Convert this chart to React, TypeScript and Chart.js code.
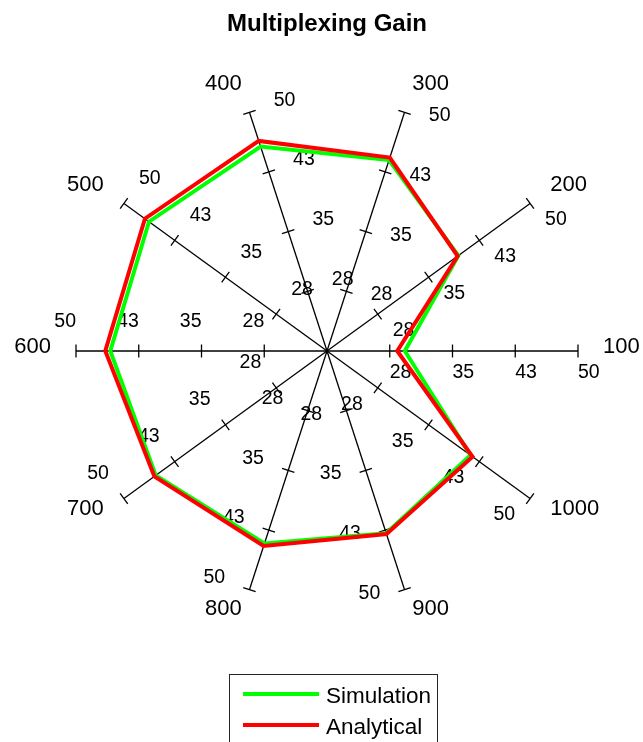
import React, { useEffect, useRef } from 'react';
import Chart from 'chart.js/auto';

// Number of users per axis, listed counter-clockwise from the right-hand axis
const categories = ['100', '200', '300', '400', '500', '600', '700', '800', '900', '1000'];
const simulation = [29.3, 39.4, 44.0, 45.7, 46.3, 45.9, 45.3, 44.2, 42.9, 41.2];
const analytical = [28.4, 39.3, 44.3, 46.4, 46.9, 46.5, 45.5, 44.5, 43.0, 41.5];

const axisMin = 20;
const axisMax = 50;
const tickValues = [27.5, 35, 42.5, 50];
const tickLabels = ['28', '35', '43', '50'];

const seriesNames = ['Simulation', 'Analytical'];
const seriesColors = ['#00ff00', '#ff0000'];
const titleText = 'Multiplexing Gain';

const FONT = "'Liberation Sans', Arial, Helvetica, sans-serif";

// The radar scale walks clockwise; the axes here go counter-clockwise from 0°.
function counterClockwise(arr: any[]) {
  const n = arr.length;
  return arr.map((_, i) => arr[(n - i) % n]);
}

// Spoke ticks, per-spoke tick labels, spoke names and the boxed legend.
const spiderDecor = {
  id: 'spiderDecor',
  beforeDatasetsDraw(chart: any) {
    const scale = chart.scales.r;
    const ctx = chart.ctx;
    const cx = scale.xCenter;
    const cy = scale.yCenter;
    ctx.save();
    ctx.strokeStyle = '#000';
    ctx.fillStyle = '#000';
    ctx.lineWidth = 1.3;
    chart.data.labels.forEach((label: string, i: number) => {
      const end = scale.getPointPositionForValue(i, axisMax);
      const len = Math.hypot(end.x - cx, end.y - cy);
      const ux = (end.x - cx) / len;
      const uy = (end.y - cy) / len;
      const px = -uy;
      const py = ux;
      let deg = Math.round((Math.atan2(-uy, ux) * 180) / Math.PI);
      deg = (deg + 360) % 360;

      ctx.font = `19.5px ${FONT}`;
      ctx.textBaseline = 'middle';
      ctx.textAlign = deg < 180 ? 'left' : 'right';
      tickValues.forEach((v, k) => {
        const p = scale.getPointPositionForValue(i, v);
        ctx.beginPath();
        ctx.moveTo(p.x - px * 6.5, p.y - py * 6.5);
        ctx.lineTo(p.x + px * 6.5, p.y + py * 6.5);
        ctx.stroke();
        ctx.fillText(tickLabels[k], p.x + px * 25.5, p.y + py * 25.5 - 4.25);
      });

      const lp = scale.getPointPositionForValue(i, axisMin + (axisMax - axisMin) * 1.1);
      ctx.font = `22px ${FONT}`;
      ctx.textAlign = ux > 0.01 ? 'left' : ux < -0.01 ? 'right' : 'center';
      ctx.fillText(String(label), lp.x, lp.y - 4.25);
    });
    ctx.restore();
  },
  afterDraw(chart: any) {
    const ctx = chart.ctx;
    ctx.save();
    ctx.strokeStyle = '#262626';
    ctx.lineWidth = 1;
    ctx.strokeRect(229.5, 674.5, 208, 100);
    ctx.font = `22.5px ${FONT}`;
    ctx.textBaseline = 'alphabetic';
    ctx.textAlign = 'left';
    ctx.fillStyle = '#000';
    seriesNames.forEach((name, k) => {
      const y = 694 + 31 * k;
      ctx.strokeStyle = seriesColors[k];
      ctx.lineWidth = 4;
      ctx.beginPath();
      ctx.moveTo(243, y);
      ctx.lineTo(319, y);
      ctx.stroke();
      ctx.fillText(name, 326, y + 9);
    });
    ctx.restore();
  },
};

export default function App() {
  const canvasRef = useRef<HTMLCanvasElement>(null);

  useEffect(() => {
    const canvas = canvasRef.current;
    if (!canvas) return;
    const chart = new Chart(canvas, {
      type: 'radar',
      data: {
        labels: counterClockwise(categories),
        datasets: [
          {
            label: seriesNames[0],
            data: counterClockwise(simulation),
            borderColor: seriesColors[0],
            backgroundColor: 'transparent',
            borderWidth: 4,
            fill: false,
            pointRadius: 0,
            order: 1,
          },
          {
            label: seriesNames[1],
            data: counterClockwise(analytical),
            borderColor: seriesColors[1],
            backgroundColor: 'transparent',
            borderWidth: 4,
            fill: false,
            pointRadius: 0,
            order: 0,
          },
        ],
      },
      options: {
        responsive: false,
        animation: false,
        devicePixelRatio: 1,
        layout: { padding: { top: 0, left: 76, right: 65, bottom: 139 } },
        elements: { line: { tension: 0, borderJoinStyle: 'miter' } },
        scales: {
          r: {
            min: axisMin,
            max: axisMax,
            startAngle: 90,
            grid: { display: false },
            ticks: { display: false },
            pointLabels: { display: false },
            angleLines: { display: true, color: '#000', lineWidth: 1.3 },
          },
        },
        plugins: {
          legend: { display: false },
          tooltip: { enabled: false },
          title: {
            display: true,
            text: titleText,
            color: '#000',
            font: { family: FONT, size: 24, weight: 'bold', lineHeight: 1.2 },
            padding: { top: 10.1, bottom: 61.6 },
          },
        },
      },
      plugins: [spiderDecor],
    } as any);
    return () => chart.destroy();
  }, []);

  return (
    <div style={{ position: 'absolute', left: 0, top: 0, width: 643, height: 742, background: '#fff' }}>
      <canvas ref={canvasRef} width={643} height={742} style={{ display: 'block' }} />
    </div>
  );
}
